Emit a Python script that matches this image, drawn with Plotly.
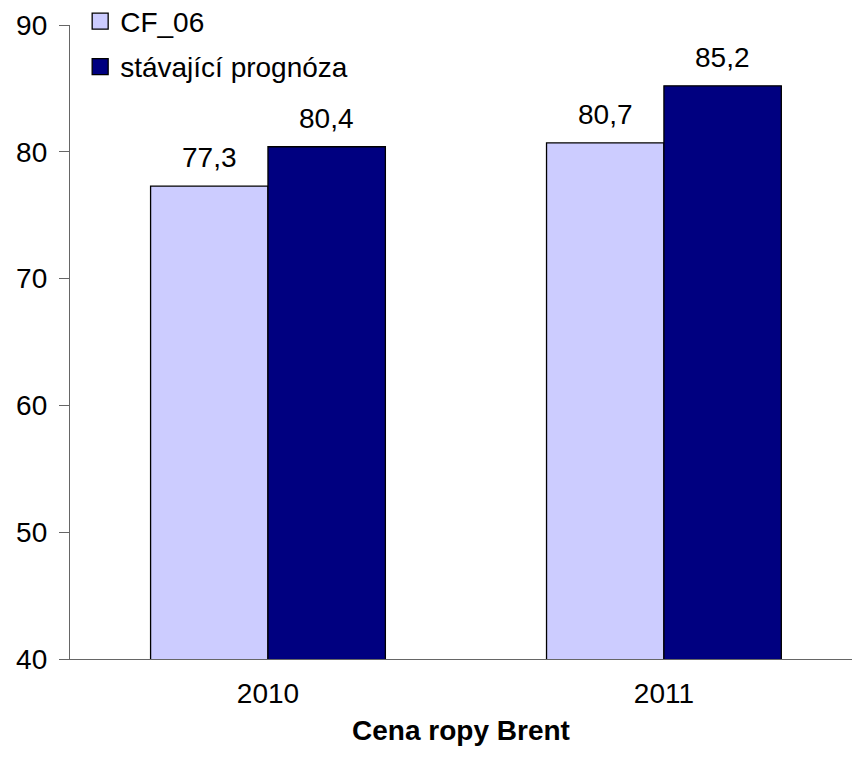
import plotly.graph_objects as go

categories = ["2010", "2011"]
series_names = ["CF_06", "stávající prognóza"]
cf06_values = [77.3, 80.7]
current_values = [80.4, 85.2]
y_ticks = [40, 50, 60, 70, 80, 90]
x_title = "Cena ropy Brent"

colors = ["#CCCCFF", "#000080"]
FONT = "Liberation Sans, Arial, sans-serif"
FS = 28
BARGAP = 0.407

fig = go.Figure()
all_values = [cf06_values, current_values]
for name, vals, col in zip(series_names, all_values, colors):
    fig.add_trace(go.Bar(
        x=categories, y=vals, name=name, showlegend=False,
        marker=dict(color=col, line=dict(color="black", width=1.3)),
    ))
# legend entries
for i, (name, col) in enumerate(zip(series_names, colors)):
    fig.add_trace(go.Scatter(
        x=[None], y=[None], mode="markers", name=name,
        legendgroup=f"g{i}",
        marker=dict(symbol="square", size=20, color=col,
                    line=dict(color="black", width=1.3)),
    ))

# data labels
w = (1 - BARGAP) / len(all_values)
for s, vals in enumerate(all_values):
    off = -(1 - BARGAP) / 2 + w * (s + 0.5)
    for i, v in enumerate(vals):
        fig.add_annotation(
            x=i + off, y=v, xref="x", yref="y",
            text=f"{v:.1f}".replace(".", ","),
            showarrow=False, yanchor="bottom", yshift=11,
            font=dict(family=FONT, size=FS, color="black"),
        )

fig.update_layout(
    width=852, height=758,
    margin=dict(l=70, r=0, t=25, b=99, autoexpand=False),
    paper_bgcolor="white", plot_bgcolor="white",
    bargap=BARGAP, bargroupgap=0, barmode="group",
    font=dict(family=FONT, size=FS, color="black"),
    legend=dict(x=0.013, y=1.045, xanchor="left", yanchor="top",
                traceorder="grouped", tracegroupgap=6,
                font=dict(family=FONT, size=FS, color="black"),
                bgcolor="rgba(0,0,0,0)"),
    showlegend=True,
)
fig.update_xaxes(
    type="category", range=[-0.5, 1.475],
    showline=True, linecolor="#666666", linewidth=1.3,
    ticks="", showgrid=False, zeroline=False,
    ticklabelstandoff=9,
    tickfont=dict(family=FONT, size=FS, color="black"),
    title=dict(text=f"<b>{x_title}</b>", standoff=12,
               font=dict(family=FONT, size=FS, color="black")),
)
fig.update_yaxes(
    range=[40, 90], tickvals=y_ticks,
    showline=True, linecolor="#666666", linewidth=1.3,
    ticks="outside", ticklen=10, tickcolor="#666666", tickwidth=1.3,
    showgrid=False, zeroline=False,
    ticklabelstandoff=6,
    tickfont=dict(family=FONT, size=FS, color="black"),
)

fig.write_html(
    "out.html",
    config={"displayModeBar": False},
    post_script="document.body.style.margin='0';document.body.style.padding='0';",
)
